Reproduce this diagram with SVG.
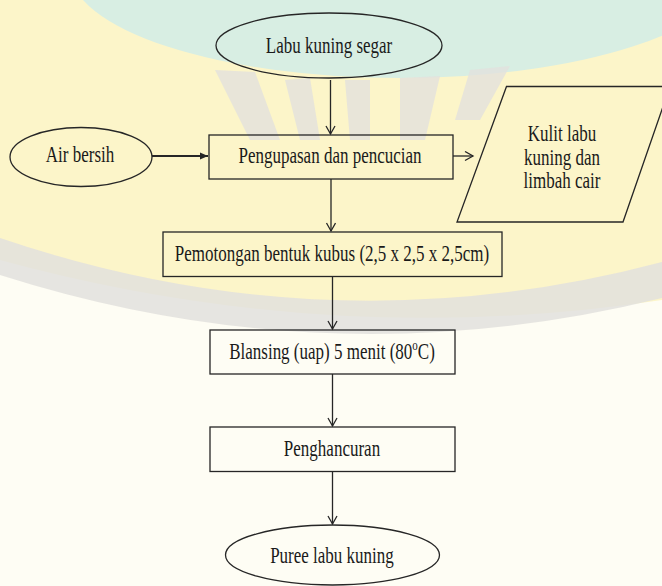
<svg xmlns="http://www.w3.org/2000/svg" width="662" height="586" viewBox="0 0 662 586">
  <style>
    .t { font-family: "Liberation Serif", "Times New Roman", serif; font-size: 17px; fill: #1a1a1a; text-anchor: middle; }
    .n { fill: none; stroke: #262626; stroke-width: 1.3; }
    .c { fill: none; stroke: #262626; stroke-width: 1.3; }
    .bg-mint { fill: #d8eee3; }
    .bg-gray { fill: #e2e1dd; }
    .bg-yel { fill: #fcf5c9; }
  </style>
  <defs>
    <marker id="open" markerWidth="12" markerHeight="12" refX="9" refY="5" orient="auto" markerUnits="userSpaceOnUse">
      <path d="M1,0.5 L9,5 L1,9.5" fill="none" stroke="#262626" stroke-width="1.3"/>
    </marker>
    <marker id="solid" markerWidth="10" markerHeight="10" refX="8" refY="4" orient="auto" markerUnits="userSpaceOnUse">
      <path d="M0,0.5 L8,4 L0,7.5 Z" fill="#262626"/>
    </marker>
  </defs>

  <g id="background">
    <rect x="0" y="0" width="662" height="586" fill="#fefdf4"/>
    <path class="bg-yel" d="M0,0 H662 V300 Q330,350 0,260 Z"/>
    <ellipse class="bg-mint" cx="400" cy="-30" rx="330" ry="108"/>
    <path class="bg-gray" d="M215,70 L250,140 L280,140 L255,72 Z M285,80 L300,140 L320,140 L310,78 Z M345,80 L350,140 L370,140 L370,80 Z M400,78 L400,140 L425,140 L440,76 Z M470,70 L455,120 L480,120 L510,66 Z" opacity="0.8"/>
    <path class="bg-gray" d="M0,238 Q330,350 662,262 L662,298 Q330,380 0,275 Z" opacity="0.85"/>
  </g>

  <g id="connectors">
    <line class="c" x1="330.5" y1="80" x2="330.5" y2="134" marker-end="url(#open)"/>
    <line x1="152" y1="156" x2="208" y2="156" stroke="#262626" stroke-width="2" marker-end="url(#solid)"/>
    <line class="c" x1="453" y1="156" x2="473" y2="156" marker-end="url(#open)"/>
    <line class="c" x1="331" y1="179" x2="331" y2="231" marker-end="url(#open)"/>
    <line class="c" x1="332.5" y1="277" x2="332.5" y2="329" marker-end="url(#open)"/>
    <line class="c" x1="332.5" y1="374" x2="332.5" y2="426" marker-end="url(#open)"/>
    <line class="c" x1="332.5" y1="472" x2="332.5" y2="524" marker-end="url(#open)"/>
  </g>

  <g id="labu-kuning-segar">
    <ellipse class="n" cx="329" cy="45.5" rx="113" ry="32.5"/>
    <text class="t" transform="translate(329,52.5) scale(1,1.35)">Labu kuning segar</text>
  </g>

  <g id="air-bersih">
    <ellipse class="n" cx="81" cy="157" rx="71" ry="29.5"/>
    <text class="t" transform="translate(80,162) scale(1,1.35)">Air bersih</text>
  </g>

  <g id="pengupasan">
    <rect class="n" x="209" y="135" width="244" height="44"/>
    <text class="t" transform="translate(330,163) scale(1,1.35)">Pengupasan dan pencucian</text>
  </g>

  <g id="kulit-limbah">
    <polygon class="n" points="506.5,86.5 670,86.5 623,222 457,222"/>
    <text class="t" transform="translate(562,141) scale(1,1.35)">Kulit labu</text>
    <text class="t" transform="translate(562,164.5) scale(1,1.35)">kuning dan</text>
    <text class="t" transform="translate(562,188) scale(1,1.35)">limbah cair</text>
  </g>

  <g id="pemotongan">
    <rect class="n" x="163" y="232" width="339" height="44.5"/>
    <text class="t" transform="translate(332,261) scale(1,1.35)">Pemotongan bentuk kubus (2,5 x 2,5 x 2,5cm)</text>
  </g>

  <g id="blansing">
    <rect class="n" x="210" y="330" width="245" height="44"/>
    <text class="t" transform="translate(332,359) scale(1,1.35)">Blansing (uap) 5 menit (80<tspan font-size="11" dy="-7">o</tspan><tspan dy="7">C)</tspan></text>
  </g>

  <g id="penghancuran">
    <rect class="n" x="210" y="427" width="245" height="44.5"/>
    <text class="t" transform="translate(332,456) scale(1,1.35)">Penghancuran</text>
  </g>

  <g id="puree">
    <ellipse class="n" cx="332.5" cy="555" rx="107" ry="30"/>
    <text class="t" transform="translate(332,563) scale(1,1.35)">Puree labu kuning</text>
  </g>
</svg>
